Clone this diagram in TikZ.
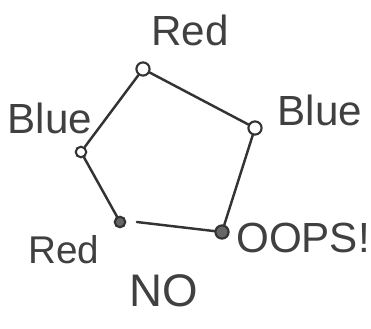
\documentclass[tikz,border=0pt]{standalone}
\usepackage{fontspec}
\setmainfont{Liberation Sans}
\usetikzlibrary{positioning}
\tikzset{
    vertex/.style={
        circle,
        draw=black!80,
        line width=1.2pt,
        inner sep=0pt,
        minimum size=7.5pt
    },
    dotvertex/.style={
        vertex,
        fill=black!60
    },
    edge/.style={
        line width=1.4pt,
        draw=black!80,
        line cap=round
    },
    word/.style={
        text=black!75,
        font=\fontsize{24}{28}\selectfont
    }
}
\begin{document}
\begin{tikzpicture}[x=0.02cm, y=-0.02cm]
            % Frame
            \useasboundingbox (0,0) rectangle (371,328);

            % Vertices
            \node[vertex] (top) at (143,69) {};
            \node[vertex] (right) at (255,128) {};
            \node[dotvertex] (botright) at (222,232) {};
            \node[dotvertex, minimum size=6pt] (botleft) at (120,222) {};
            \node[vertex, minimum size=6pt] (left) at (81,152) {};

            % Edges
            \draw[edge] (top) -- (right);
            \draw[edge] (right) -- (botright);
            \draw[edge] ([xshift=6pt]botleft.east) -- (botright);
            \draw[edge] (left) -- (botleft);
            \draw[edge] (top) -- (left);

            % Labels
            \node[word] (labtop) at (190,30) {Red};
            \node[word] (lableft) at (50,118) {Blue};
            \node[word] (labright) at (320,110) {Blue};
            \node[word, font=\fontsize{22}{26}\selectfont] (labbotleft) at (64,250) {Red};
            \node[word, font=\fontsize{26}{30}\selectfont] (labbottom) at (164,291) {NO};
            \node[word, anchor=west] (laboops) at (230,238) {OOPS!};
            \end{tikzpicture}
\end{document}
